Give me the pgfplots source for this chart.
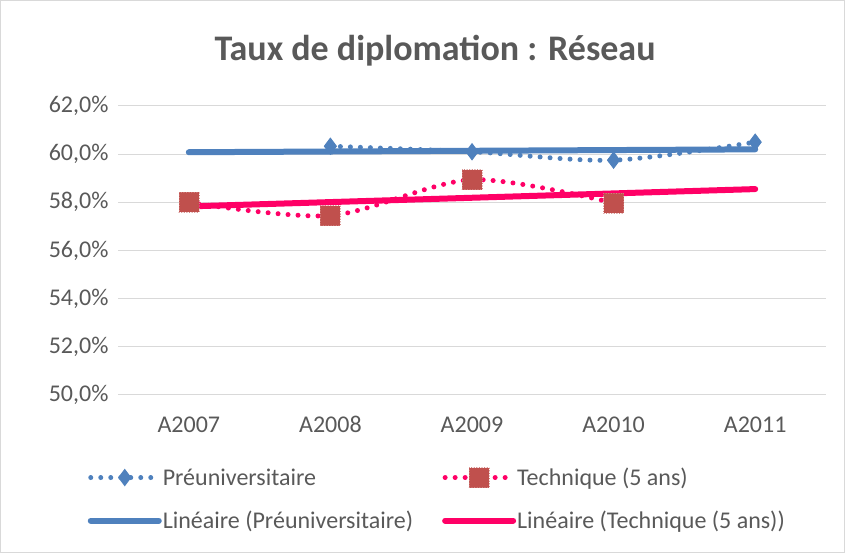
\documentclass[border=0pt]{standalone}
\usepackage{pgfplots}
\pgfplotsset{compat=1.18}
\usepackage{fontspec}
\setmainfont{Carlito}
\definecolor{bl}{HTML}{4F81BD}
\definecolor{rd}{HTML}{FF0066}
\definecolor{sq}{HTML}{C0504D}
\definecolor{tx}{HTML}{595959}
\definecolor{gr}{HTML}{D9D9D9}
\pgfplotsset{
  dotleg/.style={legend image code/.code={
    \draw[##1, mark repeat=2, mark phase=2] plot coordinates {(3pt,0pt) (37pt,0pt) (71pt,0pt)};}},
  lineleg/.style={legend image code/.code={\draw[##1] (3pt,0pt) -- (71pt,0pt);}},
}
\begin{document}
\begin{tikzpicture}[x=1pt,y=1pt]
\path[draw=gr,line width=1pt] (0.5,0.5) rectangle (844.5,552.5);
\node[font=\fontsize{36}{40}\selectfont\bfseries,text=tx] at (435,502) {Taux de diplomation : Réseau};
\begin{axis}[
  at={(118pt,158pt)}, anchor=south west,
  scale only axis, width=708pt, height=289pt,
  xmin=-0.5, xmax=4.5, ymin=50, ymax=62,
  xtick={0,1,2,3,4}, xticklabels={A2007,A2008,A2009,A2010,A2011},
  ytick={50,52,54,56,58,60,62},
  yticklabels={{50,0\%},{52,0\%},{54,0\%},{56,0\%},{58,0\%},{60,0\%},{62,0\%}},
  ymajorgrids, major grid style={gr,line width=1pt},
  axis line style={draw=none},
  ytick style={draw=none}, xtick style={draw=none},
  tick label style={font=\fontsize{24}{28}\selectfont,text=tx},
  yticklabel style={xshift=-6pt},
  xticklabel style={anchor=base, yshift=-38pt},
  legend columns=2,
  legend style={at={(-0.043,-0.245)}, anchor=north west, draw=none, fill=none,
    font=\fontsize{24}{28}\selectfont, text=tx,
    /tikz/every even column/.append style={column sep=28pt},
    row sep=20pt, inner sep=0pt,
    nodes={inner xsep=1pt}},
  legend cell align=left,
  clip=false,
]
\addplot[bl, line width=5pt, line cap=round, dash pattern=on 0pt off 10pt, smooth, tension=0.5,
  mark=diamond*, mark size=8pt, mark options={solid,fill=bl,draw=bl,line width=1pt}, dotleg]
  coordinates {(1,60.33) (2,60.1) (3,59.75) (4,60.5)};
\addlegendentry{Préuniversitaire}
\addplot[rd, line width=5pt, line cap=round, dash pattern=on 0pt off 10pt, smooth, tension=0.5,
  mark=square*, mark size=10pt, mark options={solid,fill=sq,draw=sq!70!white,line width=0.6pt,dotted}, dotleg]
  coordinates {(0,58.0) (1,57.45) (2,58.94) (3,57.97)};
\addlegendentry{Technique (5 ans)}
\addplot[bl, line width=6pt, line cap=round, no marks, lineleg]
  coordinates {(0,60.08) (4,60.2)};
\addlegendentry{Linéaire (Préuniversitaire)}
\addplot[rd, line width=6pt, line cap=round, no marks, lineleg]
  coordinates {(0,57.83) (4,58.55)};
\addlegendentry{Linéaire (Technique (5 ans))}
\end{axis}
\end{tikzpicture}
\end{document}
